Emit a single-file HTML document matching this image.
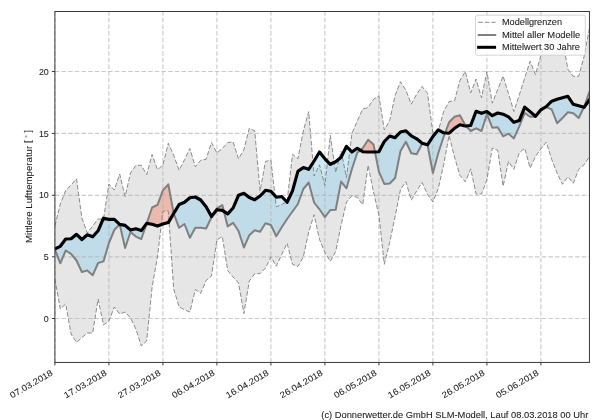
<!DOCTYPE html>
<html><head><meta charset="utf-8"><title>Mittlere Lufttemperatur</title>
<style>
html,body{margin:0;padding:0;background:#fff;}
body{width:600px;height:420px;overflow:hidden;font-family:"Liberation Sans",sans-serif;}
svg{display:block;}
text{font-family:"Liberation Sans",sans-serif;font-size:8.7px;fill:#1c1c1c;stroke:#1c1c1c;stroke-width:0.08px;}
</style></head><body>
<svg width="600" height="420" viewBox="0 0 600 420">
<rect width="600" height="420" fill="#fff"/>
<defs><filter id="gs" x="0" y="0" width="600" height="420" filterUnits="userSpaceOnUse" color-interpolation-filters="sRGB"><feColorMatrix type="saturate" values="0"/></filter><clipPath id="ax"><rect x="54.9" y="11.5" width="534.5500000000001" height="350.95"/></clipPath></defs>
<g clip-path="url(#ax)">
<polygon fill="#808080" fill-opacity="0.2" points="54.9,226.0 60.3,204.0 65.7,190.5 71.1,185.0 76.5,178.8 81.9,218.0 87.3,233.0 92.7,226.0 98.1,219.0 103.5,219.0 108.9,184.0 114.3,190.0 119.7,174.0 125.1,196.6 130.5,173.0 135.9,165.4 141.3,165.2 146.7,174.7 152.1,154.5 157.5,169.8 162.9,165.0 168.3,143.3 173.7,155.3 179.1,170.3 184.5,159.8 189.9,148.5 195.3,166.8 200.7,160.2 206.1,159.3 211.5,142.5 216.9,153.0 222.3,148.5 227.7,142.6 233.1,141.8 238.5,158.8 243.9,149.8 249.3,128.3 254.7,131.0 260.1,191.0 265.5,161.3 270.9,160.3 276.3,206.8 281.7,204.5 287.1,201.5 292.5,154.3 297.9,158.8 303.3,131.0 308.7,111.7 314.1,176.0 319.5,164.8 324.9,185.5 330.3,135.4 335.7,172.4 341.1,151.3 346.5,177.6 351.9,133.5 357.3,121.0 362.7,109.0 368.1,107.5 373.5,99.3 378.9,95.8 384.3,130.0 389.7,120.5 395.1,95.5 400.5,81.7 405.9,90.3 411.3,104.2 416.7,94.0 422.1,86.5 427.5,93.3 432.9,133.0 438.3,131.0 443.7,111.3 449.1,101.5 454.5,100.8 459.9,80.5 465.3,71.5 470.7,92.9 476.1,79.0 481.5,97.9 486.9,71.5 492.3,103.2 497.7,89.5 503.1,76.0 508.5,93.7 513.9,111.5 519.3,94.8 524.7,78.0 530.1,61.3 535.5,74.7 540.9,55.5 546.3,41.5 551.7,40.5 557.1,39.0 562.5,39.0 567.9,69.3 573.3,76.3 578.7,76.3 584.1,56.5 589.5,28.0 589.5,156.5 584.1,164.8 578.7,169.3 573.3,183.2 567.9,176.8 562.5,184.3 557.1,173.2 551.7,159.4 546.3,142.2 540.9,148.9 535.5,156.4 530.1,168.0 524.7,148.2 519.3,152.8 513.9,169.3 508.5,161.5 503.1,186.2 497.7,150.3 492.3,148.0 486.9,179.7 481.5,194.0 476.1,194.0 470.7,168.9 465.3,181.8 459.9,175.3 454.5,157.0 449.1,135.5 443.7,164.5 438.3,188.5 432.9,201.9 427.5,194.5 422.1,182.5 416.7,190.8 411.3,200.1 405.9,181.8 400.5,189.4 395.1,216.5 389.7,242.5 384.3,264.3 378.9,215.0 373.5,192.0 368.1,165.3 362.7,204.8 357.3,197.3 351.9,195.8 346.5,202.0 341.1,225.0 335.7,251.5 330.3,261.3 324.9,252.3 319.5,239.5 314.1,214.7 308.7,232.0 303.3,257.0 297.9,266.5 292.5,264.3 287.1,243.3 281.7,254.5 276.3,266.2 270.9,256.8 265.5,268.0 260.1,273.7 254.7,273.7 249.3,281.0 243.9,313.5 238.5,283.0 233.1,277.0 227.7,270.5 222.3,236.4 216.9,240.0 211.5,276.0 206.1,280.5 200.7,293.3 195.3,289.5 189.9,312.0 184.5,309.8 179.1,306.8 173.7,289.0 168.3,211.0 162.9,211.0 157.5,256.7 152.1,287.0 146.7,341.0 141.3,346.0 135.9,329.0 130.5,318.0 125.1,312.0 119.7,314.0 114.3,307.0 108.9,321.0 103.5,325.0 98.1,299.0 92.7,333.0 87.3,333.0 81.9,337.6 76.5,342.4 71.1,334.0 65.7,304.0 60.3,309.0 54.9,279.0"/>
<polygon fill="#87ceeb" fill-opacity="0.4" points="54.9,249.5 60.3,263.3 65.7,250.5 71.1,253.8 76.5,260.5 81.9,272.0 87.3,270.4 92.7,275.3 98.1,263.0 103.5,261.4 108.9,243.0 114.3,230.0 119.6,224.3 119.6,224.3 114.3,219.4 108.9,219.4 103.5,218.2 98.1,230.8 92.7,236.8 87.3,234.8 81.9,239.5 76.5,234.3 71.1,238.8 65.7,239.0 60.3,246.3 54.9,249.0"/>
<polygon fill="#f5765d" fill-opacity="0.4" points="119.6,224.3 119.7,224.2 119.7,224.4 119.7,224.4 119.7,224.4 119.6,224.3"/>
<polygon fill="#87ceeb" fill-opacity="0.4" points="119.7,224.4 125.1,248.0 130.5,232.0 135.9,236.6 141.3,239.0 146.7,223.5 146.7,223.4 146.7,223.4 146.7,223.4 141.3,230.6 135.9,228.8 130.5,230.0 125.1,225.4 119.7,224.4"/>
<polygon fill="#f5765d" fill-opacity="0.4" points="146.7,223.4 152.1,207.5 157.5,204.8 162.9,190.3 168.3,184.3 173.7,213.5 173.7,213.5 168.3,222.6 162.9,224.1 157.5,226.1 152.1,224.2 146.7,223.4"/>
<polygon fill="#87ceeb" fill-opacity="0.4" points="173.7,213.5 179.1,227.8 184.5,224.0 189.9,237.8 195.3,227.8 200.7,227.8 206.1,228.5 211.5,217.3 213.5,214.0 213.5,214.0 211.5,216.5 206.1,206.8 200.7,200.0 195.3,197.0 189.9,197.8 184.5,202.3 179.1,204.5 173.7,213.5"/>
<polygon fill="#f5765d" fill-opacity="0.4" points="213.5,214.0 216.9,208.3 222.3,205.1 223.9,211.4 223.9,211.4 222.3,210.4 216.9,209.7 213.5,214.0"/>
<polygon fill="#87ceeb" fill-opacity="0.4" points="223.9,211.4 227.7,226.4 233.1,222.8 238.5,231.0 243.9,247.5 249.3,235.2 254.7,230.3 260.1,231.8 265.5,223.2 270.9,225.0 276.3,236.3 281.7,227.3 287.1,219.0 292.5,211.5 297.9,204.0 303.3,189.0 308.7,182.5 314.1,202.5 319.5,209.3 324.9,217.2 330.3,210.0 335.7,209.7 341.1,181.6 346.5,188.3 351.9,169.0 357.3,152.8 360.4,150.2 360.4,150.2 357.3,148.3 351.9,152.0 346.5,146.3 341.1,157.3 335.7,161.8 330.3,164.3 324.9,158.8 319.5,152.0 314.1,161.0 308.7,169.3 303.3,167.6 297.9,171.3 292.5,190.8 287.1,202.3 281.7,196.5 276.3,197.2 270.9,191.2 265.5,190.3 260.1,196.0 254.7,199.8 249.3,197.5 243.9,193.3 238.5,195.3 233.1,208.0 227.7,213.9 223.9,211.4"/>
<polygon fill="#f5765d" fill-opacity="0.4" points="360.4,150.2 362.7,148.3 368.1,139.7 373.5,144.5 375.0,151.9 375.0,151.9 373.5,152.0 368.1,152.0 362.7,151.7 360.4,150.2"/>
<polygon fill="#87ceeb" fill-opacity="0.4" points="375.0,151.9 378.9,171.6 384.3,183.9 389.7,183.5 395.1,178.0 400.5,151.0 405.9,141.8 411.3,153.3 416.7,154.2 422.1,143.7 427.5,144.8 432.9,173.0 438.3,153.0 443.7,136.5 445.1,132.9 445.1,132.9 443.7,132.8 438.3,129.8 432.9,136.5 427.5,144.8 422.1,143.3 416.7,138.8 411.3,135.8 405.9,130.8 400.5,132.0 395.1,137.7 389.7,136.0 384.3,141.5 378.9,151.7 375.0,151.9"/>
<polygon fill="#f5765d" fill-opacity="0.4" points="445.1,132.9 449.1,122.3 454.5,116.7 459.9,115.2 465.3,125.3 465.9,125.9 465.9,125.9 465.3,126.0 459.9,124.8 454.5,128.3 449.1,133.2 445.1,132.9"/>
<polygon fill="#87ceeb" fill-opacity="0.4" points="465.9,125.9 470.7,131.0 476.1,128.3 481.5,131.0 486.9,114.2 492.3,127.7 497.7,127.3 503.1,136.3 508.5,133.7 513.9,138.4 519.3,126.4 524.7,113.0 530.1,116.7 535.5,116.8 540.9,110.1 546.3,106.9 551.7,109.5 557.1,123.2 562.5,118.0 567.9,112.3 573.3,113.2 578.7,118.0 583.9,107.2 583.9,107.2 578.7,105.8 573.3,104.3 567.9,96.3 562.5,97.8 557.1,99.3 551.7,101.2 546.3,106.5 540.9,109.8 535.5,116.3 530.1,111.6 524.7,107.1 519.3,120.6 513.9,122.3 508.5,116.8 503.1,114.2 497.7,113.0 492.3,115.7 486.9,111.5 481.5,113.3 476.1,111.3 470.7,125.5 465.9,125.9"/>
<polygon fill="#f5765d" fill-opacity="0.4" points="583.9,107.2 584.1,106.8 589.5,91.8 589.5,99.8 584.1,107.3 583.9,107.2"/>
</g>
<g stroke="#b0b0b0" stroke-opacity="0.66" stroke-width="1.15" stroke-dasharray="4.5 2.17" fill="none">
<line x1="54.9" y1="362.45" x2="54.9" y2="11.5"/>
<line x1="108.9" y1="362.45" x2="108.9" y2="11.5"/>
<line x1="162.9" y1="362.45" x2="162.9" y2="11.5"/>
<line x1="216.9" y1="362.45" x2="216.9" y2="11.5"/>
<line x1="270.9" y1="362.45" x2="270.9" y2="11.5"/>
<line x1="324.9" y1="362.45" x2="324.9" y2="11.5"/>
<line x1="378.9" y1="362.45" x2="378.9" y2="11.5"/>
<line x1="432.9" y1="362.45" x2="432.9" y2="11.5"/>
<line x1="486.9" y1="362.45" x2="486.9" y2="11.5"/>
<line x1="540.9" y1="362.45" x2="540.9" y2="11.5"/>
<line x1="54.9" y1="318.5" x2="589.45" y2="318.5" stroke-dashoffset="0.1"/>
<line x1="54.9" y1="256.8" x2="589.45" y2="256.8" stroke-dashoffset="0.1"/>
<line x1="54.9" y1="195.3" x2="589.45" y2="195.3" stroke-dashoffset="0.1"/>
<line x1="54.9" y1="133.4" x2="589.45" y2="133.4" stroke-dashoffset="0.1"/>
<line x1="54.9" y1="71.5" x2="589.45" y2="71.5" stroke-dashoffset="0.1"/>
</g>
<g clip-path="url(#ax)" fill="none" stroke-linejoin="round">
<polyline stroke="#858585" stroke-width="0.95" stroke-dasharray="4.6 2" points="54.9,226.0 60.3,204.0 65.7,190.5 71.1,185.0 76.5,178.8 81.9,218.0 87.3,233.0 92.7,226.0 98.1,219.0 103.5,219.0 108.9,184.0 114.3,190.0 119.7,174.0 125.1,196.6 130.5,173.0 135.9,165.4 141.3,165.2 146.7,174.7 152.1,154.5 157.5,169.8 162.9,165.0 168.3,143.3 173.7,155.3 179.1,170.3 184.5,159.8 189.9,148.5 195.3,166.8 200.7,160.2 206.1,159.3 211.5,142.5 216.9,153.0 222.3,148.5 227.7,142.6 233.1,141.8 238.5,158.8 243.9,149.8 249.3,128.3 254.7,131.0 260.1,191.0 265.5,161.3 270.9,160.3 276.3,206.8 281.7,204.5 287.1,201.5 292.5,154.3 297.9,158.8 303.3,131.0 308.7,111.7 314.1,176.0 319.5,164.8 324.9,185.5 330.3,135.4 335.7,172.4 341.1,151.3 346.5,177.6 351.9,133.5 357.3,121.0 362.7,109.0 368.1,107.5 373.5,99.3 378.9,95.8 384.3,130.0 389.7,120.5 395.1,95.5 400.5,81.7 405.9,90.3 411.3,104.2 416.7,94.0 422.1,86.5 427.5,93.3 432.9,133.0 438.3,131.0 443.7,111.3 449.1,101.5 454.5,100.8 459.9,80.5 465.3,71.5 470.7,92.9 476.1,79.0 481.5,97.9 486.9,71.5 492.3,103.2 497.7,89.5 503.1,76.0 508.5,93.7 513.9,111.5 519.3,94.8 524.7,78.0 530.1,61.3 535.5,74.7 540.9,55.5 546.3,41.5 551.7,40.5 557.1,39.0 562.5,39.0 567.9,69.3 573.3,76.3 578.7,76.3 584.1,56.5 589.5,28.0"/>
<polyline stroke="#858585" stroke-width="0.95" stroke-dasharray="4.6 2" points="54.9,279.0 60.3,309.0 65.7,304.0 71.1,334.0 76.5,342.4 81.9,337.6 87.3,333.0 92.7,333.0 98.1,299.0 103.5,325.0 108.9,321.0 114.3,307.0 119.7,314.0 125.1,312.0 130.5,318.0 135.9,329.0 141.3,346.0 146.7,341.0 152.1,287.0 157.5,256.7 162.9,211.0 168.3,211.0 173.7,289.0 179.1,306.8 184.5,309.8 189.9,312.0 195.3,289.5 200.7,293.3 206.1,280.5 211.5,276.0 216.9,240.0 222.3,236.4 227.7,270.5 233.1,277.0 238.5,283.0 243.9,313.5 249.3,281.0 254.7,273.7 260.1,273.7 265.5,268.0 270.9,256.8 276.3,266.2 281.7,254.5 287.1,243.3 292.5,264.3 297.9,266.5 303.3,257.0 308.7,232.0 314.1,214.7 319.5,239.5 324.9,252.3 330.3,261.3 335.7,251.5 341.1,225.0 346.5,202.0 351.9,195.8 357.3,197.3 362.7,204.8 368.1,165.3 373.5,192.0 378.9,215.0 384.3,264.3 389.7,242.5 395.1,216.5 400.5,189.4 405.9,181.8 411.3,200.1 416.7,190.8 422.1,182.5 427.5,194.5 432.9,201.9 438.3,188.5 443.7,164.5 449.1,135.5 454.5,157.0 459.9,175.3 465.3,181.8 470.7,168.9 476.1,194.0 481.5,194.0 486.9,179.7 492.3,148.0 497.7,150.3 503.1,186.2 508.5,161.5 513.9,169.3 519.3,152.8 524.7,148.2 530.1,168.0 535.5,156.4 540.9,148.9 546.3,142.2 551.7,159.4 557.1,173.2 562.5,184.3 567.9,176.8 573.3,183.2 578.7,169.3 584.1,164.8 589.5,156.5"/>
<polyline stroke="#808080" stroke-width="2" stroke-linecap="square" points="54.9,249.5 60.3,263.3 65.7,250.5 71.1,253.8 76.5,260.5 81.9,272.0 87.3,270.4 92.7,275.3 98.1,263.0 103.5,261.4 108.9,243.0 114.3,230.0 119.7,224.2 125.1,248.0 130.5,232.0 135.9,236.6 141.3,239.0 146.7,223.5 152.1,207.5 157.5,204.8 162.9,190.3 168.3,184.3 173.7,213.5 179.1,227.8 184.5,224.0 189.9,237.8 195.3,227.8 200.7,227.8 206.1,228.5 211.5,217.3 216.9,208.3 222.3,205.1 227.7,226.4 233.1,222.8 238.5,231.0 243.9,247.5 249.3,235.2 254.7,230.3 260.1,231.8 265.5,223.2 270.9,225.0 276.3,236.3 281.7,227.3 287.1,219.0 292.5,211.5 297.9,204.0 303.3,189.0 308.7,182.5 314.1,202.5 319.5,209.3 324.9,217.2 330.3,210.0 335.7,209.7 341.1,181.6 346.5,188.3 351.9,169.0 357.3,152.8 362.7,148.3 368.1,139.7 373.5,144.5 378.9,171.6 384.3,183.9 389.7,183.5 395.1,178.0 400.5,151.0 405.9,141.8 411.3,153.3 416.7,154.2 422.1,143.7 427.5,144.8 432.9,173.0 438.3,153.0 443.7,136.5 449.1,122.3 454.5,116.7 459.9,115.2 465.3,125.3 470.7,131.0 476.1,128.3 481.5,131.0 486.9,114.2 492.3,127.7 497.7,127.3 503.1,136.3 508.5,133.7 513.9,138.4 519.3,126.4 524.7,113.0 530.1,116.7 535.5,116.8 540.9,110.1 546.3,106.9 551.7,109.5 557.1,123.2 562.5,118.0 567.9,112.3 573.3,113.2 578.7,118.0 584.1,106.8 589.5,91.8"/>
<polyline stroke="#000" stroke-width="3.15" stroke-linecap="square" points="54.9,249.0 60.3,246.3 65.7,239.0 71.1,238.8 76.5,234.3 81.9,239.5 87.3,234.8 92.7,236.8 98.1,230.8 103.5,218.2 108.9,219.4 114.3,219.4 119.7,224.4 125.1,225.4 130.5,230.0 135.9,228.8 141.3,230.6 146.7,223.4 152.1,224.2 157.5,226.1 162.9,224.1 168.3,222.6 173.7,213.5 179.1,204.5 184.5,202.3 189.9,197.8 195.3,197.0 200.7,200.0 206.1,206.8 211.5,216.5 216.9,209.7 222.3,210.4 227.7,213.9 233.1,208.0 238.5,195.3 243.9,193.3 249.3,197.5 254.7,199.8 260.1,196.0 265.5,190.3 270.9,191.2 276.3,197.2 281.7,196.5 287.1,202.3 292.5,190.8 297.9,171.3 303.3,167.6 308.7,169.3 314.1,161.0 319.5,152.0 324.9,158.8 330.3,164.3 335.7,161.8 341.1,157.3 346.5,146.3 351.9,152.0 357.3,148.3 362.7,151.7 368.1,152.0 373.5,152.0 378.9,151.7 384.3,141.5 389.7,136.0 395.1,137.7 400.5,132.0 405.9,130.8 411.3,135.8 416.7,138.8 422.1,143.3 427.5,144.8 432.9,136.5 438.3,129.8 443.7,132.8 449.1,133.2 454.5,128.3 459.9,124.8 465.3,126.0 470.7,125.5 476.1,111.3 481.5,113.3 486.9,111.5 492.3,115.7 497.7,113.0 503.1,114.2 508.5,116.8 513.9,122.3 519.3,120.6 524.7,107.1 530.1,111.6 535.5,116.3 540.9,109.8 546.3,106.5 551.7,101.2 557.1,99.3 562.5,97.8 567.9,96.3 573.3,104.3 578.7,105.8 584.1,107.3 589.5,99.8"/>
</g>
<g stroke="#3a3a3a" stroke-width="1" fill="none">
<line x1="54.9" y1="362.45" x2="54.9" y2="365.45"/>
<line x1="108.9" y1="362.45" x2="108.9" y2="365.45"/>
<line x1="162.9" y1="362.45" x2="162.9" y2="365.45"/>
<line x1="216.9" y1="362.45" x2="216.9" y2="365.45"/>
<line x1="270.9" y1="362.45" x2="270.9" y2="365.45"/>
<line x1="324.9" y1="362.45" x2="324.9" y2="365.45"/>
<line x1="378.9" y1="362.45" x2="378.9" y2="365.45"/>
<line x1="432.9" y1="362.45" x2="432.9" y2="365.45"/>
<line x1="486.9" y1="362.45" x2="486.9" y2="365.45"/>
<line x1="540.9" y1="362.45" x2="540.9" y2="365.45"/>
<line x1="51.9" y1="318.5" x2="54.9" y2="318.5"/>
<line x1="51.9" y1="256.8" x2="54.9" y2="256.8"/>
<line x1="51.9" y1="195.3" x2="54.9" y2="195.3"/>
<line x1="51.9" y1="133.4" x2="54.9" y2="133.4"/>
<line x1="51.9" y1="71.5" x2="54.9" y2="71.5"/>
</g>
<rect x="54.9" y="11.5" width="534.5500000000001" height="350.95" fill="none" stroke="#3a3a3a" stroke-width="1"/>
<g filter="url(#gs)">
<g>
<text transform="translate(53.4,374.6) rotate(-30)" text-anchor="end" textLength="47.7" lengthAdjust="spacingAndGlyphs">07.03.2018</text>
<text transform="translate(107.4,374.6) rotate(-30)" text-anchor="end" textLength="47.7" lengthAdjust="spacingAndGlyphs">17.03.2018</text>
<text transform="translate(161.4,374.6) rotate(-30)" text-anchor="end" textLength="47.7" lengthAdjust="spacingAndGlyphs">27.03.2018</text>
<text transform="translate(215.4,374.6) rotate(-30)" text-anchor="end" textLength="47.7" lengthAdjust="spacingAndGlyphs">06.04.2018</text>
<text transform="translate(269.4,374.6) rotate(-30)" text-anchor="end" textLength="47.7" lengthAdjust="spacingAndGlyphs">16.04.2018</text>
<text transform="translate(323.4,374.6) rotate(-30)" text-anchor="end" textLength="47.7" lengthAdjust="spacingAndGlyphs">26.04.2018</text>
<text transform="translate(377.4,374.6) rotate(-30)" text-anchor="end" textLength="47.7" lengthAdjust="spacingAndGlyphs">06.05.2018</text>
<text transform="translate(431.4,374.6) rotate(-30)" text-anchor="end" textLength="47.7" lengthAdjust="spacingAndGlyphs">16.05.2018</text>
<text transform="translate(485.4,374.6) rotate(-30)" text-anchor="end" textLength="47.7" lengthAdjust="spacingAndGlyphs">26.05.2018</text>
<text transform="translate(539.4,374.6) rotate(-30)" text-anchor="end" textLength="47.7" lengthAdjust="spacingAndGlyphs">05.06.2018</text>
<text x="48.8" y="321.6" text-anchor="end" textLength="4.93" lengthAdjust="spacingAndGlyphs">0</text>
<text x="48.8" y="259.9" text-anchor="end" textLength="4.93" lengthAdjust="spacingAndGlyphs">5</text>
<text x="48.8" y="198.4" text-anchor="end" textLength="9.86" lengthAdjust="spacingAndGlyphs">10</text>
<text x="48.8" y="136.5" text-anchor="end" textLength="9.86" lengthAdjust="spacingAndGlyphs">15</text>
<text x="48.8" y="74.6" text-anchor="end" textLength="9.86" lengthAdjust="spacingAndGlyphs">20</text>
</g>
<g><g transform="translate(31.7,243) rotate(-90)">
<text x="0" y="0" textLength="97.2" lengthAdjust="spacingAndGlyphs">Mittlere Lufttemperatur</text>
<text x="100.2" y="-0.7">[</text>
<text x="105.6" y="-2.6" style="font-size:6px">&#176;</text>
<text x="110.6" y="-0.7">]</text>
</g></g>
<text x="588.3" y="417.7" text-anchor="end" textLength="267" lengthAdjust="spacingAndGlyphs">(c) Donnerwetter.de GmbH SLM-Modell, Lauf 08.03.2018 00 Uhr</text>
<g>
<rect x="475.5" y="15.2" width="109.8" height="40" rx="1.8" ry="1.8" fill="#fff" fill-opacity="0.8" stroke="#ccc" stroke-opacity="0.8" stroke-width="1"/>
<line x1="478.2" y1="22.3" x2="495.6" y2="22.3" stroke="#858585" stroke-width="0.95" stroke-dasharray="4.6 2"/>
<line x1="478.7" y1="35" x2="495.2" y2="35" stroke="#808080" stroke-width="2" stroke-linecap="square"/>
<line x1="478.6" y1="47.3" x2="494.6" y2="47.3" stroke="#000" stroke-width="3" stroke-linecap="square"/>
<text x="502" y="25.3" textLength="60" lengthAdjust="spacingAndGlyphs">Modellgrenzen</text>
<text x="502" y="37.6" textLength="78.2" lengthAdjust="spacingAndGlyphs">Mittel aller Modelle</text>
<text x="502" y="50.1" textLength="78" lengthAdjust="spacingAndGlyphs">Mittelwert 30 Jahre</text>
</g>
</g>
</svg>
</body></html>
